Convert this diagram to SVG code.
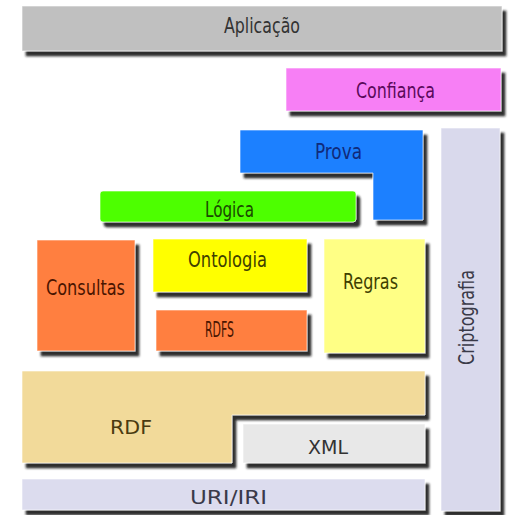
<svg xmlns="http://www.w3.org/2000/svg" width="510" height="515" viewBox="0 0 510 515">
  <defs>
    <filter id="sh" x="-10%" y="-10%" width="130%" height="140%">
      <feDropShadow dx="4" dy="5" stdDeviation="1.3" flood-color="#151515" flood-opacity="0.9"/>
    </filter>
  </defs>
  <style>
    .box { stroke: #ffffff; stroke-width: 1; stroke-opacity: 0.6; filter: url(#sh); }
    .cond { font-family: "DejaVu Sans Condensed", "Liberation Sans Narrow", "DejaVu Sans", sans-serif; font-size: 22px; text-anchor: middle; }
    .verd { font-family: "DejaVu Sans", Verdana, sans-serif; font-size: 19px; text-anchor: middle; }
  </style>
  <rect width="510" height="515" fill="#ffffff"/>

  <g id="criptografia">
    <rect class="box" x="441" y="128" width="59" height="383" fill="#d9d9ec"/>
    <text class="cond" transform="translate(474,317.5) rotate(-90)" textLength="95" lengthAdjust="spacingAndGlyphs" fill="#3a3a48">Criptografia</text>
  </g>

  <g id="aplicacao">
    <rect class="box" x="22" y="6" width="480" height="45" fill="#c0c0c0"/>
    <text class="cond" x="262" y="33" textLength="76" lengthAdjust="spacingAndGlyphs" fill="#333333">Aplicação</text>
  </g>

  <g id="confianca">
    <rect class="box" x="286" y="68" width="215" height="43" fill="#f77ff5"/>
    <text class="cond" x="395.5" y="98" textLength="79" lengthAdjust="spacingAndGlyphs" fill="#5a0a5a">Confiança</text>
  </g>

  <g id="prova">
    <path class="box" d="M240,130 H423 V220 H373 V173 H240 Z" fill="#1f80ff"/>
    <text class="cond" x="338.5" y="159" textLength="47" lengthAdjust="spacingAndGlyphs" fill="#102a7a">Prova</text>
  </g>

  <g id="logica">
    <rect class="box" x="100" y="191" width="256" height="31" rx="3" fill="#4eff00"/>
    <text class="cond" x="229.5" y="217" textLength="49" lengthAdjust="spacingAndGlyphs" fill="#1a4a00">Lógica</text>
  </g>

  <g id="consultas">
    <rect class="box" x="37" y="240" width="98" height="111" fill="#ff7f40"/>
    <text class="cond" x="85.5" y="295" textLength="79" lengthAdjust="spacingAndGlyphs" fill="#4a1500">Consultas</text>
  </g>

  <g id="ontologia">
    <rect class="box" x="153" y="239" width="154" height="53" fill="#ffff00"/>
    <text class="cond" x="227.5" y="267" textLength="79" lengthAdjust="spacingAndGlyphs" fill="#3f3f00">Ontologia</text>
  </g>

  <g id="rdfs">
    <rect class="box" x="156" y="310" width="151" height="41" fill="#ff7f40"/>
    <text class="cond" x="219.5" y="337" textLength="29" lengthAdjust="spacingAndGlyphs" fill="#4a1500">RDFS</text>
  </g>

  <g id="regras">
    <rect class="box" x="324" y="239" width="101" height="114" fill="#ffff85"/>
    <text class="cond" x="370.5" y="289" textLength="55" lengthAdjust="spacingAndGlyphs" fill="#3f3f00">Regras</text>
  </g>

  <g id="rdf">
    <path class="box" d="M22,371 H425 V415 H232 V463 H22 Z" fill="#f2da9a"/>
    <text class="verd" x="131" y="434" textLength="42" lengthAdjust="spacingAndGlyphs" fill="#4a3a10">RDF</text>
  </g>

  <g id="xml">
    <rect class="box" x="243" y="424" width="182" height="39" fill="#e8e8e8"/>
    <text class="verd" x="328" y="454" font-size="18" textLength="40" lengthAdjust="spacingAndGlyphs" fill="#333333">XML</text>
  </g>

  <g id="uri-iri">
    <rect class="box" x="22" y="479" width="403" height="31" fill="#dcdcee"/>
    <text class="verd" x="228.5" y="504" textLength="77" lengthAdjust="spacingAndGlyphs" fill="#3a3a4a">URI/IRI</text>
  </g>

  <g id="connectors"/>
</svg>
